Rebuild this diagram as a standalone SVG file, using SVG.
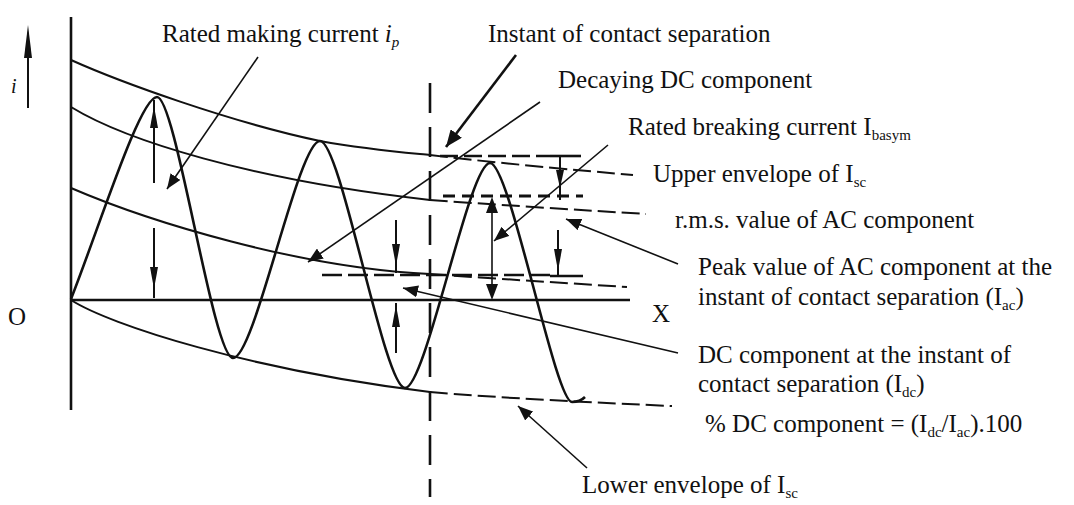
<svg xmlns="http://www.w3.org/2000/svg" width="1074" height="505" viewBox="0 0 1074 505">
<defs>
<style>
.t{font-family:"Liberation Serif","Times New Roman",serif;font-size:25px;fill:#111}
.s{font-size:15px}
.ln{fill:none;stroke:#111;stroke-linecap:butt}
.wave{stroke-width:2.6}
.env{stroke-width:2}
.dsh{stroke-dasharray:18 6}
.ax{stroke-width:2.6}
.vd{stroke-width:2.6;stroke-dasharray:30 14}
.sm{stroke-width:2}
.ld{fill:none;stroke:#111;stroke-width:1.6}
.ldb{fill:none;stroke:#111;stroke-width:2.6}
.hd{fill:#111}
</style>
<marker id="ah" markerUnits="userSpaceOnUse" markerWidth="16" markerHeight="12" refX="15" refY="6" orient="auto"><path d="M0,0 L15,6 L0,12 z" fill="#111"/></marker>
<marker id="ahb" markerUnits="userSpaceOnUse" markerWidth="18" markerHeight="14" refX="17" refY="7" orient="auto"><path d="M0,0 L17,7 L0,14 z" fill="#111"/></marker>
</defs>
<rect width="1074" height="505" fill="#fff"/>

<g id="axes">
<path class="ln ax" d="M71,17 L71,410"/>
<path class="ln ax" d="M71,300 L630,300"/>
<path class="ln sm" d="M28,108 L28,40"/>
<polygon class="hd" points="28,25 24,58 32,58"/>
<path class="ln vd" d="M430,83 L430,497"/>
</g>

<g id="curves">
<path id="upper-envelope" class="ln env" d="M71,60 C120,82 230,122 320,141 C370,150 410,153 430,155"/>
<path class="ln env dsh" d="M430,155 C470,160 540,167 633,175"/>
<path id="rms-curve" class="ln env" d="M71,107 C125,140 250,180 430,200"/>
<path class="ln env dsh" d="M430,200 C500,205 580,210 646,214"/>
<path id="dc-curve" class="ln env" d="M71,188 C150,222 300,268 430,274"/>
<path class="ln env dsh" d="M430,274 C500,279 580,284 627,287"/>
<path id="lower-envelope" class="ln env" d="M71,300 C110,325 250,370 430,392"/>
<path class="ln env dsh" d="M430,392 C500,398 600,403 672,406"/>
<path id="wave" class="ln wave" d="M71,299 C100,225 140,97 157,97 C176,97 213,358 233,358 C255,358 298,141 320,141 C341,141 384,388 405,388 C426,388 469,163 490,163 C510,163 555,402 572,402 C578,402 582,400 585,397"/>
</g>

<g id="measures">
<path class="ln" stroke-width="2.4" stroke-dasharray="18 6" d="M440,156 L550,156"/>
<path class="ln ax" d="M550,156 L581,156"/>
<path class="ln" stroke-width="3" stroke-dasharray="12 7" d="M443,196 L583,196"/>
<path class="ln" stroke-width="2.4" stroke-dasharray="20 6" d="M322,275 L550,275"/>
<path class="ln ax" d="M550,276 L583,276"/>
<path class="ln sm" d="M154,100 L154,183"/>
<polygon class="hd" points="154,106 150,128 158,128"/>
<path class="ln sm" d="M154,228 L154,298"/>
<polygon class="hd" points="154,289 150,267 158,267"/>
<path class="ln sm" d="M396,220 L396,273"/>
<polygon class="hd" points="396,266 392,244 400,244"/>
<path class="ln sm" d="M396,303 L396,353"/>
<polygon class="hd" points="396,305 392,327 400,327"/>
<path class="ln sm" d="M558,230 L558,276"/>
<polygon class="hd" points="558,271 554,249 562,249"/>
<path class="ln sm" d="M560,157 L560,200"/>
<polygon class="hd" points="560,188 556,170 564,170"/>
<path class="ln" stroke-width="1.6" d="M492,205 L492,292"/>
<polygon class="hd" points="492,197 486,213 498,213"/>
<polygon class="hd" points="492,300 486,284 498,284"/>
</g>

<g id="connectors">
<path class="ld" marker-end="url(#ah)" d="M258,57 L167,189"/>
<path class="ldb" marker-end="url(#ahb)" d="M516,55 L446,147"/>
<path class="ld" marker-end="url(#ah)" d="M540,102 L308,262"/>
<path class="ld" marker-end="url(#ah)" d="M608,145 L494,241"/>
<path class="ld" marker-end="url(#ah)" d="M678,264 L566,219"/>
<path class="ld" marker-end="url(#ah)" d="M678,353 L403,288"/>
<path class="ld" marker-end="url(#ah)" d="M587,468 L518,406"/>
</g>

<g id="label-i"><text class="t" x="11" y="93" font-style="italic" style="font-size:20px">i</text></g>
<g id="label-o"><text class="t" x="8" y="325">O</text></g>
<g id="label-x"><text class="t" x="652" y="322">X</text></g>
<g id="label-making"><text class="t" x="162" y="42">Rated making current <tspan font-style="italic">i</tspan><tspan class="s" font-style="italic" dy="5">p</tspan></text></g>
<g id="label-instant"><text class="t" x="488" y="42">Instant of contact separation</text></g>
<g id="label-decaying"><text class="t" x="558" y="88">Decaying DC component</text></g>
<g id="label-breaking"><text class="t" x="628" y="135">Rated breaking current I<tspan class="s" dy="5">basym</tspan></text></g>
<g id="label-upper"><text class="t" x="653" y="182">Upper envelope of I<tspan class="s" dy="5">sc</tspan></text></g>
<g id="label-rms"><text class="t" x="675" y="228">r.m.s. value of AC component</text></g>
<g id="label-peak"><text class="t" x="698" y="275">Peak value of AC component at the</text><text class="t" x="698" y="305">instant of contact separation (I<tspan class="s" dy="5">ac</tspan><tspan dy="-5">)</tspan></text></g>
<g id="label-dc"><text class="t" x="698" y="363">DC component at the instant of</text><text class="t" x="698" y="392">contact separation (I<tspan class="s" dy="5">dc</tspan><tspan dy="-5">)</tspan></text></g>
<g id="label-percent"><text class="t" x="705" y="432">% DC component = (I<tspan class="s" dy="5">dc</tspan><tspan dy="-5">/I</tspan><tspan class="s" dy="5">ac</tspan><tspan dy="-5">).100</tspan></text></g>
<g id="label-lower"><text class="t" x="582" y="493">Lower envelope of I<tspan class="s" dy="5">sc</tspan></text></g>
</svg>
